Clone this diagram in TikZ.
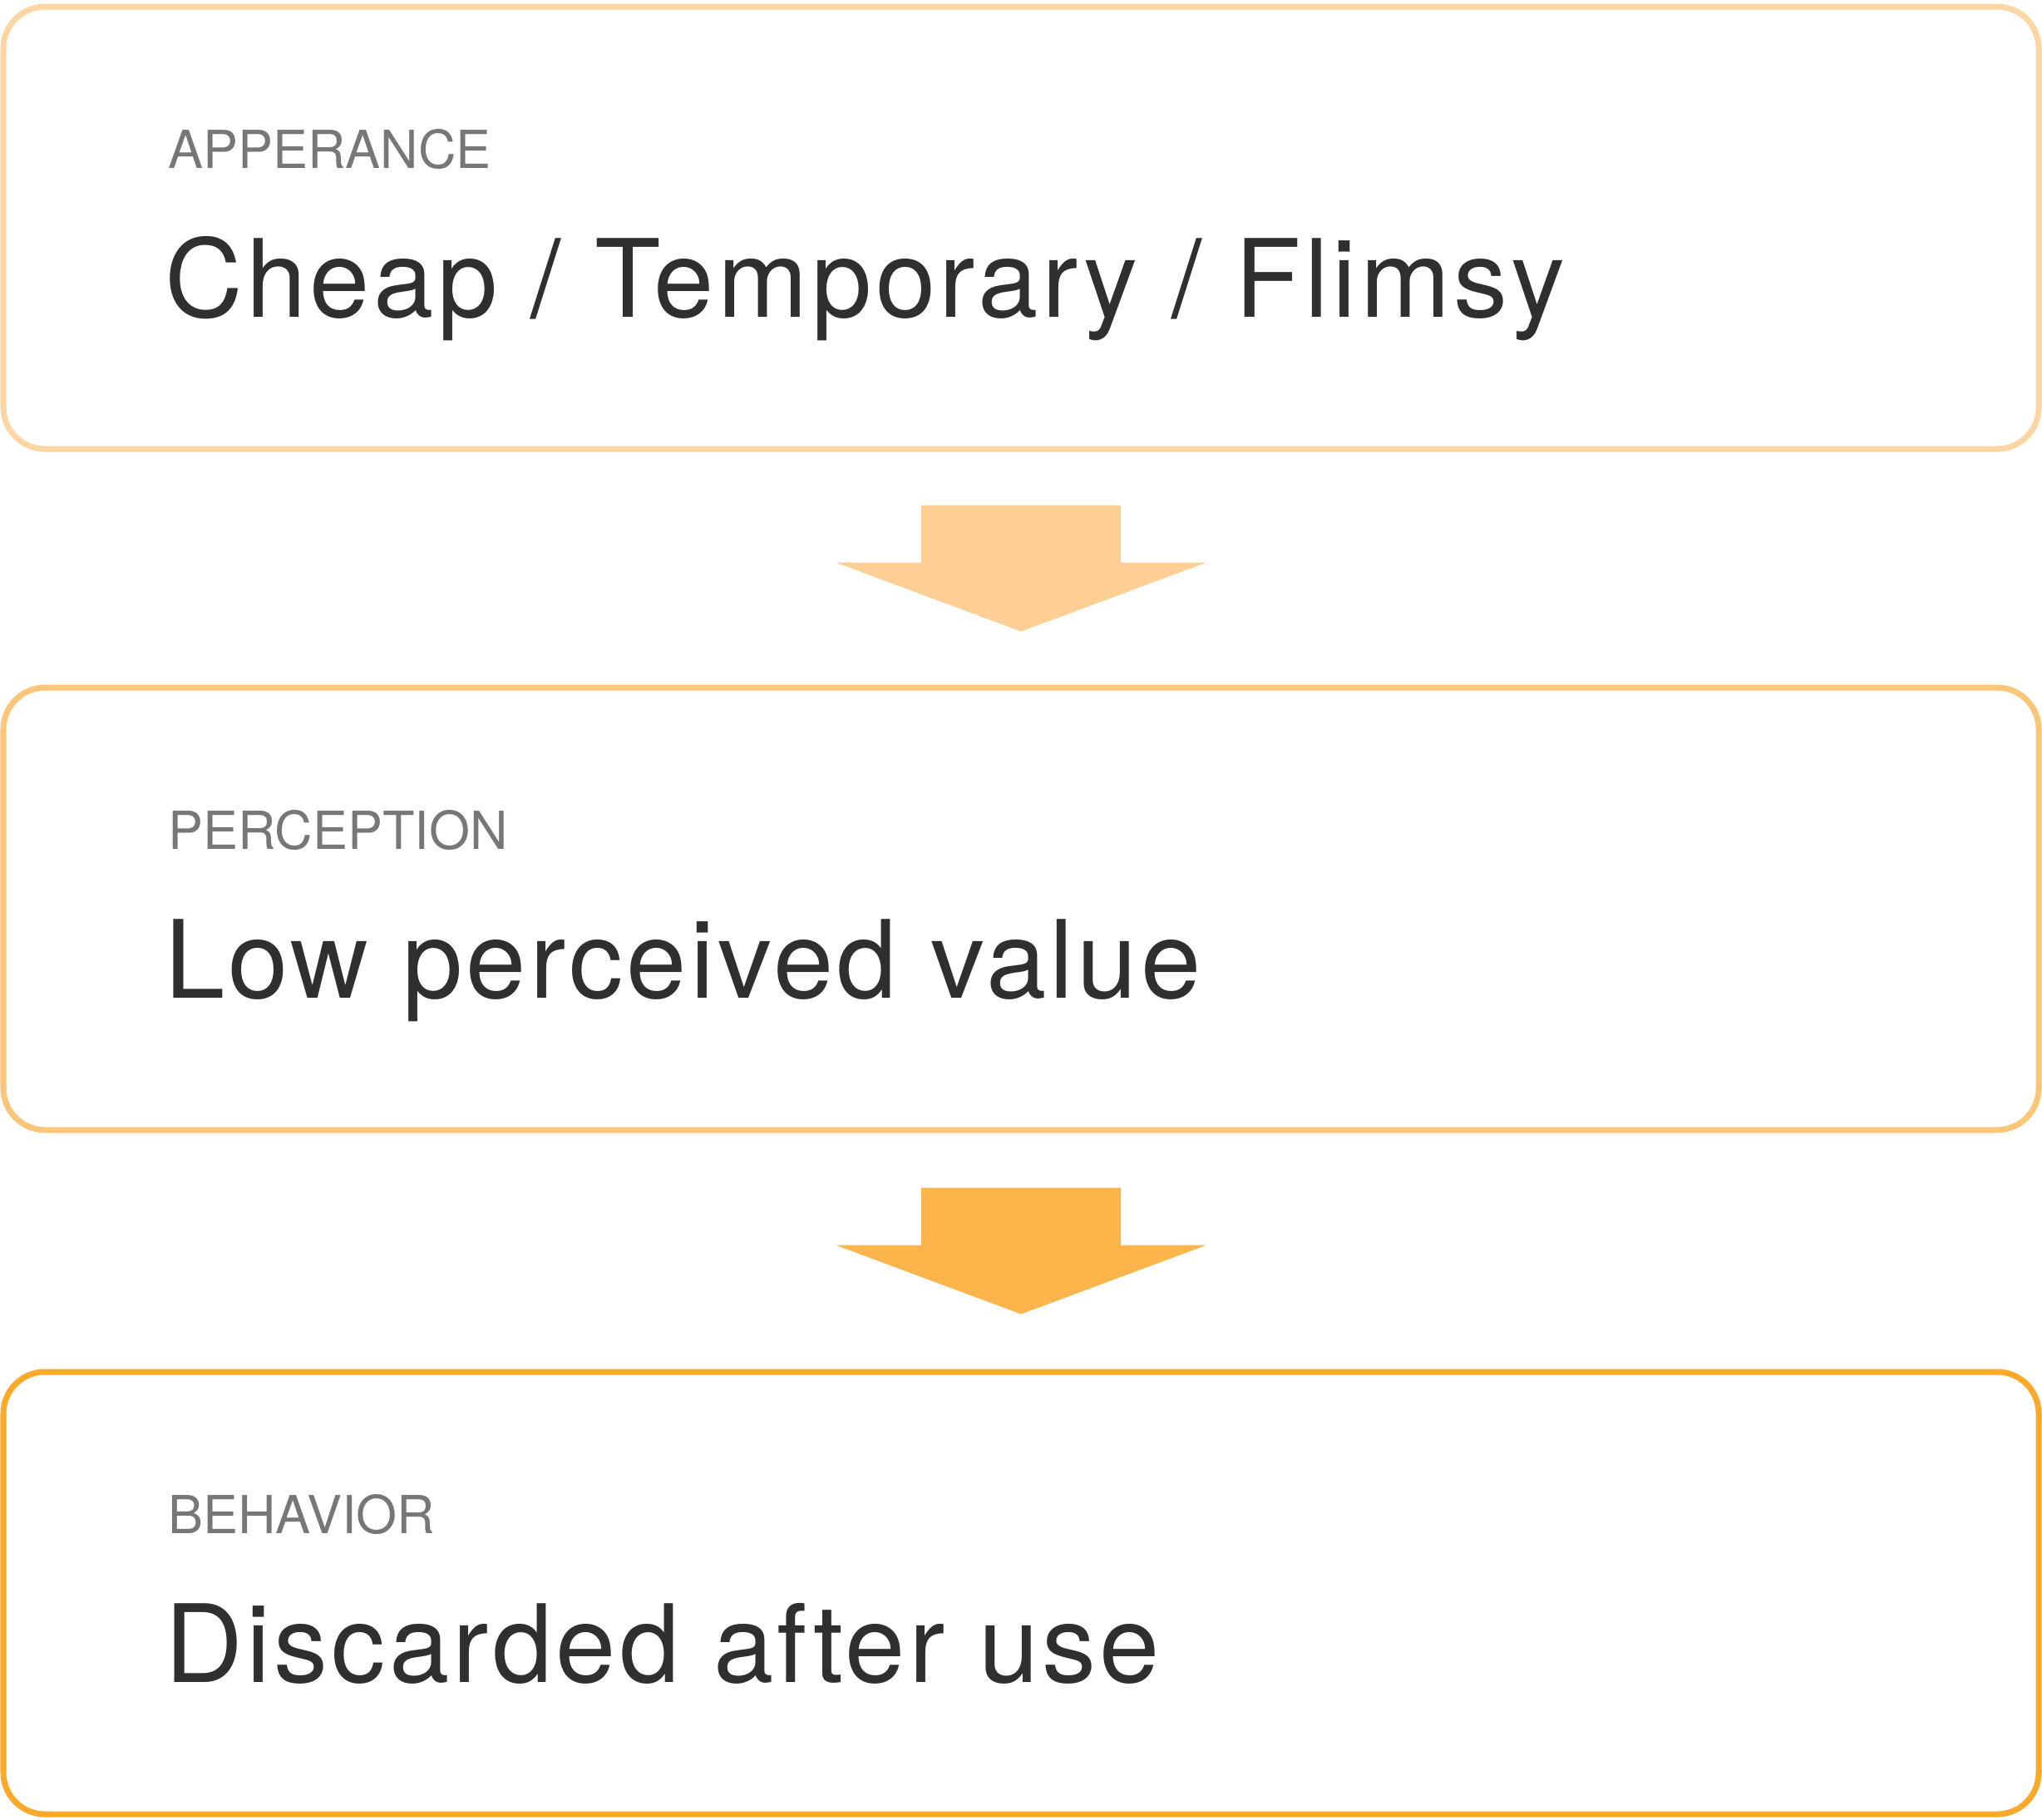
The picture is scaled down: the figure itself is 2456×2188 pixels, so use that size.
\documentclass[tikz,border=0pt]{standalone}
\usepackage{fontspec}
\setmainfont{TeX Gyre Heros}
\usepackage{tikz}
\usetikzlibrary{calc}

\definecolor{inkdark}{HTML}{2F2F2F}
\definecolor{taggray}{HTML}{777777}
\definecolor{edgeA}{HTML}{FDD6A4}
\definecolor{edgeB}{HTML}{FBC678}
\definecolor{edgeC}{HTML}{FCA829}
\definecolor{flowA}{HTML}{FDCF94}
\definecolor{flowB}{HTML}{FDB54B}

\begin{document}
\begin{tikzpicture}[x=1pt,y=-1pt,
  stagebox/.style={rectangle, rounded corners=50pt, line width=7pt, fill=white,
    minimum width=2448pt, minimum height=532pt, inner sep=0pt, outer sep=0pt},
  tag/.style={anchor=base west, inner sep=0pt, text=taggray,
    font=\fontsize{63}{70}\selectfont},
  claim/.style={anchor=base west, inner sep=0pt, text=inkdark,
    font=\fontsize{130}{140}\selectfont\addfontfeatures{LetterSpace=3.3}}]

\useasboundingbox (0,0) rectangle (2456,2188);

% boxes
\node[stagebox, draw=edgeA] (appear) at (1228,274) {};
\node[stagebox, draw=edgeB] (perc) at (1228,1093) {};
\node[stagebox, draw=edgeC] (behav) at (1228,1916) {};

% texts
\node[tag] (appeartag) at ($(appear.north west)+(198,194)$) {APPERANCE};
\node[claim] (appeartxt) at ($(appear.north west)+(194,373)$) {Cheap / Temporary / Flimsy};

\node[tag] (perctag) at ($(perc.north west)+(198,194)$) {PERCEPTION};
\node[claim] (perctxt) at ($(perc.north west)+(194,373)$) {Low perceived value};

\node[tag] (behavtag) at ($(behav.north west)+(198,194)$) {BEHAVIOR};
\node[claim] (behavtxt) at ($(behav.north west)+(194,373)$) {Discarded after use};

% block arrows
\coordinate (m1) at ($(appear.south)!0.5!(perc.north)$);
\coordinate (m2) at ($(perc.south)!0.5!(behav.north)$);

\fill[flowA] ($(m1)+(-120,-76)$) -- ($(m1)+(120,-76)$) -- ($(m1)+(120,-7)$)
  -- ($(m1)+(223,-7)$) -- ($(m1)+(0,76)$) -- ($(m1)+(-223,-7)$)
  -- ($(m1)+(-120,-7)$) -- cycle;
\fill[flowB] ($(m2)+(-120,-76)$) -- ($(m2)+(120,-76)$) -- ($(m2)+(120,-7)$)
  -- ($(m2)+(223,-7)$) -- ($(m2)+(0,76)$) -- ($(m2)+(-223,-7)$)
  -- ($(m2)+(-120,-7)$) -- cycle;

\end{tikzpicture}
\end{document}
